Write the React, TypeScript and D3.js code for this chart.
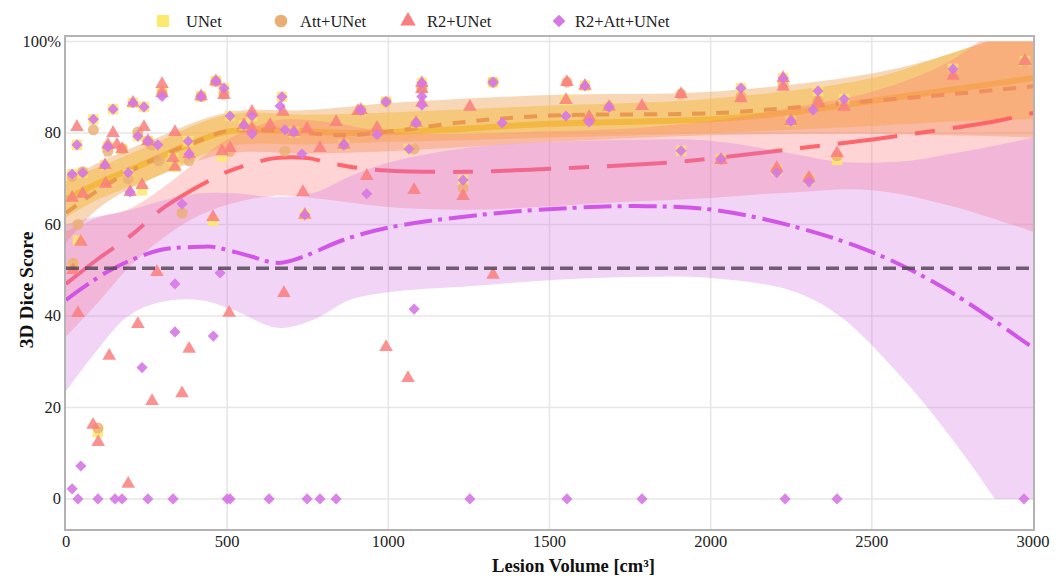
import * as d3 from 'd3'

// axis ticks
const xTicks = [0, 500, 1000, 1500, 2000, 2500, 3000]
const yTicks = [0, 20, 40, 60, 80, 100]
const yTickLabels = ['0', '20', '40', '60', '80', '100%']
const refValue = 50.4

// fitted curves (loess means)
const unetFitX = [0, 100, 250, 400, 500, 650, 860, 1000, 1250, 1500, 2000, 2250, 2500, 2750, 3000]
const unetFitY = [65.5, 69, 73.5, 78, 80.3, 80.6, 80, 80.2, 81, 82, 83, 84.5, 87, 89.5, 92]
const attFitX = [0, 100, 250, 400, 500, 650, 860, 1000, 1250, 1500, 2000, 2250, 2500, 2750, 3000]
const attFitY = [62.5, 67.5, 73.5, 78, 80.4, 80.5, 79.5, 80.3, 82.5, 83.8, 84.3, 85.5, 87, 88.5, 90.2]
const r2FitX = [0, 100, 200, 300, 416, 500, 580, 650, 750, 820, 950, 1230, 1540, 1800, 1960, 2280, 2535, 2900, 3000]
const r2FitY = [47, 52.5, 57.5, 63.5, 68.5, 71.5, 73.4, 74.5, 74.5, 73.4, 72, 71.5, 72.3, 73.2, 74.1, 76.7, 78.9, 82.8, 84.4]
const r2attFitX = [0, 137, 292, 416, 456, 560, 655, 726, 860, 1000, 1285, 1564, 1802, 2007, 2277, 2526, 2750, 3000]
const r2attFitY = [43.5, 50, 54.4, 55.1, 55.1, 53.3, 51.6, 52.7, 56.6, 59.3, 62.1, 63.6, 64, 63.2, 59.2, 53.2, 45, 33]

// confidence bands
const unetBandX = [0, 100, 250, 500, 750, 1000, 1500, 2000, 2500, 2750, 3000]
const unetBandLo = [61.5, 65.5, 69.5, 77, 77.5, 78, 79, 80, 81.5, 82.5, 83]
const unetBandHi = [70, 72.5, 77, 84, 84, 84.5, 86, 87.5, 92, 97.5, 103]
const attBandX = [0, 100, 250, 500, 750, 1000, 1500, 2000, 2500, 2750, 3000]
const attBandLo = [56, 63.5, 69.5, 75.5, 75.5, 76, 78, 79.5, 79.8, 79.5, 79]
const attBandHi = [69.5, 73.5, 78, 84.5, 85, 86.5, 88.3, 89, 93, 97.5, 104]
const r2BandX = [0, 100, 200, 300, 400, 500, 650, 800, 1000, 1250, 1500, 1750, 2000, 2250, 2500, 2750, 3000]
const r2BandLo = [35.5, 43, 51, 57, 61.5, 64.3, 66.3, 65.5, 63.8, 63.2, 64, 65, 65.8, 67, 67.5, 64, 58.4]
const r2BandHi = [58.5, 61.5, 63.5, 68, 73.5, 78.5, 82.7, 82.5, 80.2, 79.8, 80.4, 81, 82.6, 85.5, 89, 96, 110]
const r2attBandX = [0, 80, 190, 290, 415, 520, 655, 765, 880, 1000, 1250, 1500, 1750, 2000, 2250, 2400, 2600, 2750, 2900, 3000]
const r2attBandLo = [23.5, 31, 39.8, 43, 43.5, 41.3, 37.4, 39.1, 43.5, 45.2, 46.5, 47.8, 48.5, 48.3, 45.5, 40, 26, 13, -2, -14]
const r2attBandHi = [60, 61.5, 63, 65, 66.8, 66.8, 66, 66.8, 70.5, 73.5, 76.8, 78, 78.5, 78.3, 75.5, 73.7, 73.8, 75.5, 77.5, 79]

// scatter points [volume, dice]
const unetPts = [[19,71],[22,51],[34,77.4],[37,56.5],[52,71.3],[85,83],[99,14.6],[121,73],[130,77],[146,85.2],[174,76.5],[193,71],[208,86.6],[223,79.3],[236,67.5],[242,85.7],[254,78.2],[298,89],[332,74.5],[338,72.6],[379,78.2],[419,88],[456,60.8],[465,91.3],[484,74.8],[490,89.8],[509,83.7],[552,81.7],[577,83.7],[670,87.9],[707,80.2],[741,62.1],[862,77.4],[915,85],[993,86.8],[1064,76.5],[1086,82.2],[1104,90.9],[1232,69.7],[1325,91.1],[1551,87.2],[1610,90.3],[1685,85.7],[1908,76.1],[2032,74.3],[2094,89.8],[2205,71.8],[2225,92],[2249,82.6],[2305,69.8],[2333,89.2],[2392,74.1],[2414,87.4],[2752,94],[2975,95.7]]
const attPts = [[19,70.5],[22,51.5],[37,60],[52,71.5],[85,80.7],[99,15.5],[130,76],[174,76.5],[193,70],[223,80.2],[254,78.2],[265,77.4],[288,73.9],[298,88.7],[360,62.5],[382,73.9],[419,88],[465,91.3],[490,88.5],[509,76],[577,80.9],[679,76],[707,80.2],[862,77.4],[915,85],[993,86.8],[1080,76.5],[1086,82.2],[1104,89.6],[1232,68],[1325,91.1],[1554,91.1],[1623,83],[1685,85.7],[1908,88.5],[2032,74.2],[2094,88],[2205,72],[2225,90.5],[2249,82.6],[2305,70],[2333,87],[2392,75],[2414,86],[2752,93],[2975,95.5]]
const r2Pts = [[22,50],[37,40.6],[46,56.2],[84,16.2],[100,12.4],[134,31.3],[193,3.3],[223,38.2],[267,21.4],[282,49.6],[360,23.1],[382,32.8],[506,40.7],[676,45],[993,33.2],[1061,26.4],[1325,49],[19,65.8],[34,81.3],[52,66.7],[121,73],[123,68.9],[130,77.4],[146,80],[158,77.4],[174,76.5],[199,67.1],[208,86.6],[236,68.6],[242,81.3],[254,78.2],[298,90.7],[298,88.7],[332,74.5],[338,72.6],[338,80.2],[382,75.4],[419,88],[456,61.6],[465,91.3],[484,76],[490,88.3],[509,76.7],[552,81.7],[577,84.6],[577,80.9],[633,81.7],[673,84.6],[707,80.2],[735,67.1],[741,62.1],[748,80.9],[788,76.7],[838,82.4],[862,77.4],[906,84.8],[915,85],[933,70.6],[965,81.1],[1080,67.5],[1086,82.2],[1104,90.9],[1104,89.6],[1104,86.6],[1232,66.2],[1253,85.7],[1551,87.2],[1554,91.1],[1610,90.3],[1623,83.5],[1685,85.7],[1787,85.9],[1908,88.5],[2032,74.1],[2094,87.6],[2205,72.3],[2225,92],[2225,90.1],[2249,82.6],[2305,70.2],[2333,86.8],[2392,75.6],[2414,85.7],[2752,92.5],[2975,95.7]]
const r2attPts = [[37,0],[99,0],[152,0],[174,0],[254,0],[332,0],[500,0],[509,0],[630,0],[748,0],[788,0],[838,0],[1253,0],[1554,0],[1787,0],[2231,0],[2392,0],[2972,0],[19,2.2],[46,7.2],[236,28.7],[338,36.5],[457,35.6],[338,47],[478,49.4],[1080,41.5],[19,71],[52,71.3],[34,77.4],[85,83],[121,73],[130,77],[146,85.2],[193,71.3],[199,67.1],[208,86.6],[242,85.7],[223,79.3],[254,78.2],[285,77.4],[298,88],[360,64.5],[382,75.4],[379,78.2],[419,88],[465,91.3],[490,89.8],[509,83.7],[552,81.7],[577,83.7],[577,79.8],[664,85.9],[670,87.9],[679,80.7],[707,80.2],[732,75.4],[741,62.1],[862,77.4],[915,85],[933,66.7],[965,79.6],[993,86.8],[1064,76.5],[1086,82.2],[1104,90.9],[1104,88],[1104,86.1],[1232,69.7],[1325,91.1],[1353,82.2],[1551,83.7],[1610,90.3],[1623,82.4],[1685,85.7],[1908,76.1],[2032,74.3],[2094,89.8],[2205,71.3],[2225,92],[2249,82.6],[2305,69.3],[2318,85],[2333,89.2],[2414,87.4],[2752,94]]

const legendNames = ['UNet', 'Att+UNet', 'R2+UNet', 'R2+Att+UNet']

const FONT = '"Liberation Serif", "Times New Roman", serif'
const L = 66, R = 1033, T = 36, B = 530

export default function App() {
  const x = d3.scaleLinear().domain([0, 3000]).range([L, R])
  const y = d3.scaleLinear().domain([-6.8, 101.2]).range([B, T])

  const band = (X: number[], lo: number[], hi: number[]) =>
    d3.area<number>().x(d => x(d)).y0((_, i) => y(lo[i])).y1((_, i) => y(hi[i])).curve(d3.curveCatmullRom)(X) || ''
  const fit = (X: number[], Y: number[]) =>
    d3.line<number>().x(d => x(d)).y((_, i) => y(Y[i])).curve(d3.curveCatmullRom)(X) || ''

  const series = [
    { name: 'UNet', bx: unetBandX, lo: unetBandLo, hi: unetBandHi, fx: unetFitX, fy: unetFitY, pts: unetPts,
      band: '#f7cf3a', bandOp: 0.5, line: '#f5c526', lw: 6, lineOp: 0.8, dash: undefined as string | undefined,
      mark: '#fde96b', markOp: 0.85, sym: d3.symbolSquare, size: 110, rot: 0 },
    { name: 'Att+UNet', bx: attBandX, lo: attBandLo, hi: attBandHi, fx: attFitX, fy: attFitY, pts: attPts,
      band: '#ee9a4a', bandOp: 0.4, line: '#e8944a', lw: 4, lineOp: 0.9, dash: '13,11',
      mark: '#ebae72', markOp: 0.8, sym: d3.symbolCircle, size: 95, rot: 0 },
    { name: 'R2+UNet', bx: r2BandX, lo: r2BandLo, hi: r2BandHi, fx: r2FitX, fy: r2FitY, pts: r2Pts,
      band: '#ff7b7b', bandOp: 0.33, line: '#ff5f66', lw: 4, lineOp: 0.95, dash: '60,18,20,18',
      mark: '#fa7e7e', markOp: 0.85, sym: d3.symbolTriangle, size: 80, rot: 0 },
    { name: 'R2+Att+UNet', bx: r2attBandX, lo: r2attBandLo, hi: r2attBandHi, fx: r2attFitX, fy: r2attFitY, pts: r2attPts,
      band: '#d070e0', bandOp: 0.3, line: '#cf4fe6', lw: 4, lineOp: 0.95, dash: '28,6,4,7',
      mark: '#d578e6', markOp: 0.9, sym: d3.symbolSquare, size: 62, rot: 45 },
  ]

  const legendX = [163, 281, 408, 559]

  return (
    <svg width={1064} height={576} style={{ position: 'absolute', left: 0, top: 0, background: '#fff' }}>
      <defs>
        <clipPath id="bandclip">
          <rect x={L} y={y(100)} width={R - L} height={y(0) - y(100)} />
        </clipPath>
      </defs>
      {/* grid */}
      {xTicks.slice(1, -1).map(t => (
        <line key={'gx' + t} x1={x(t)} x2={x(t)} y1={T} y2={B} stroke="#e6e6e6" strokeWidth={1.5} />
      ))}
      {yTicks.map(t => (
        <line key={'gy' + t} x1={L} x2={R} y1={y(t)} y2={y(t)} stroke="#e6e6e6" strokeWidth={1.5} />
      ))}
      {/* bands and fits */}
      {series.map(s => (
        <g key={'s' + s.name}>
          <path d={band(s.bx, s.lo, s.hi)} fill={s.band} fillOpacity={s.bandOp} clipPath="url(#bandclip)" />
          <path d={fit(s.fx, s.fy)} fill="none" stroke={s.line} strokeWidth={s.lw} strokeOpacity={s.lineOp}
            strokeDasharray={s.dash} clipPath="url(#bandclip)" />
        </g>
      ))}
      {/* points */}
      {series.map(s => (
        <g key={'p' + s.name}>
          {s.pts.map((p, i) => (
            <path key={i} d={d3.symbol(s.sym, s.size)() || ''} fill={s.mark} fillOpacity={s.markOp}
              transform={`translate(${x(p[0])},${y(p[1])}) rotate(${s.rot})`} />
          ))}
        </g>
      ))}
      {/* reference line */}
      <line x1={L} x2={R} y1={y(refValue)} y2={y(refValue)} stroke="#574758" strokeOpacity={0.85}
        strokeWidth={3.5} strokeDasharray="13,6" />
      {/* frame */}
      <rect x={L - 1} y={T} width={R - L + 2} height={B - T} fill="none" stroke="#b3b3b3" strokeWidth={2} />
      {/* axes labels */}
      {xTicks.map(t => (
        <text key={'tx' + t} x={x(t)} y={547} textAnchor="middle" fontFamily={FONT} fontSize={16.5} fill="#222">{t}</text>
      ))}
      {yTicks.map((t, i) => (
        <text key={'ty' + t} x={61} y={y(t) + 5.5} textAnchor="end" fontFamily={FONT} fontSize={16.5} fill="#222">{yTickLabels[i]}</text>
      ))}
      <text x={(L + R) / 2 + 24} y={572} textAnchor="middle" fontFamily={FONT} fontSize={18.5} fontWeight="bold" fill="#111">
        Lesion Volume [cm³]
      </text>
      <text transform={`translate(33,${(T + B) / 2 + 7}) rotate(-90)`} textAnchor="middle" fontFamily={FONT}
        fontSize={19.5} fontWeight="bold" fill="#111">3D Dice Score</text>
      {/* legend */}
      {series.map((s, i) => (
        <g key={'l' + s.name} transform={`translate(${legendX[i]},21)`}>
          <path d={d3.symbol(s.sym, s.size * 1.3)() || ''} fill={s.mark} transform={`rotate(${s.rot})`} />
          <text x={i === 0 ? 23 : i === 3 ? 16 : 19} y={5.5} fontFamily={FONT} fontSize={16.5} fill="#222">{legendNames[i]}</text>
        </g>
      ))}
    </svg>
  )
}
